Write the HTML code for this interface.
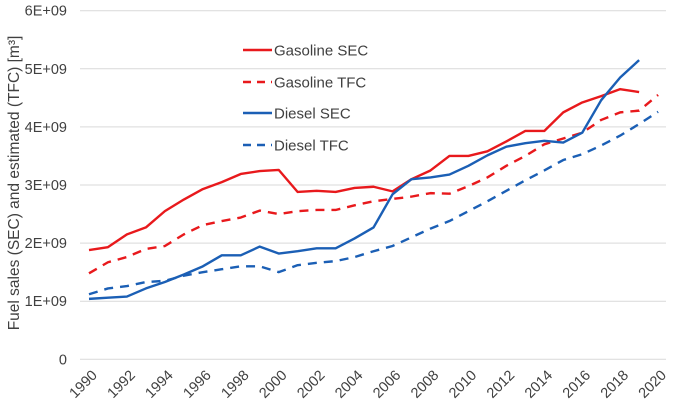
<!DOCTYPE html>
<html><head><meta charset="utf-8"><style>
body{margin:0;background:#fff;}
svg{display:block;font-family:"Liberation Sans",sans-serif;}
</style></head><body>
<svg id="c" width="673" height="406"></svg>
<script>
const years=[1990,1991,1992,1993,1994,1995,1996,1997,1998,1999,2000,2001,2002,2003,2004,2005,2006,2007,2008,2009,2010,2011,2012,2013,2014,2015,2016,2017,2018,2019,2020];
const gasolineSEC=[1.88,1.93,2.15,2.27,2.55,2.75,2.93,3.05,3.19,3.24,3.26,2.88,2.90,2.88,2.95,2.97,2.89,3.10,3.25,3.50,3.50,3.58,3.75,3.93,3.93,4.25,4.42,4.53,4.65,4.60];
const gasolineTFC=[1.48,1.67,1.76,1.90,1.95,2.15,2.31,2.38,2.44,2.56,2.50,2.55,2.57,2.57,2.65,2.72,2.76,2.80,2.86,2.85,2.98,3.13,3.33,3.50,3.70,3.80,3.90,4.12,4.25,4.28,4.55];
const dieselSEC=[1.04,1.06,1.08,1.22,1.33,1.46,1.60,1.79,1.79,1.94,1.82,1.86,1.91,1.91,2.08,2.27,2.84,3.10,3.13,3.18,3.33,3.51,3.66,3.72,3.76,3.73,3.90,4.46,4.85,5.15];
const dieselTFC=[1.12,1.22,1.26,1.33,1.35,1.44,1.50,1.55,1.60,1.60,1.50,1.62,1.66,1.69,1.76,1.86,1.95,2.10,2.25,2.38,2.55,2.72,2.90,3.08,3.25,3.43,3.53,3.68,3.85,4.05,4.26];
const yTicks=[0,1,2,3,4,5,6];
const yTickLabels=["0","1E+09","2E+09","3E+09","4E+09","5E+09","6E+09"];
const xTickLabels=[1990,1992,1994,1996,1998,2000,2002,2004,2006,2008,2010,2012,2014,2016,2018,2020];
const series=[
 {name:"Gasoline SEC",vals:gasolineSEC,color:"#e8191c",dash:""},
 {name:"Gasoline TFC",vals:gasolineTFC,color:"#e8191c",dash:"9,7"},
 {name:"Diesel SEC",vals:dieselSEC,color:"#1b5fb5",dash:""},
 {name:"Diesel TFC",vals:dieselTFC,color:"#1b5fb5",dash:"9,7"}
];
const svg=document.getElementById('c');
const NS="http://www.w3.org/2000/svg";
function X(yr){return 89+(yr-1990)*18.97;}
function Y(v){return 359.3-v*58.1;}
function mk(t,a){const e=document.createElementNS(NS,t);for(const k in a)e.setAttribute(k,a[k]);svg.appendChild(e);return e;}
yTicks.forEach((v,i)=>{
 const g=mk('line',{x1:80,x2:666,y1:Y(v),y2:Y(v),stroke:"#d9d9d9","stroke-width":1});
 
 
 const t=mk('text',{x:67,y:Y(v)+5,"text-anchor":"end","font-size":14.5,fill:"#404040"});
 t.textContent=yTickLabels[i];
 
 
});
xTickLabels.forEach(yr=>{
 const x=X(yr)+9,y=376;
 const t=mk('text',{x:x,y:y,"text-anchor":"end","font-size":14.5,fill:"#404040",transform:`rotate(-45 ${x} ${y})`});
 t.textContent=yr;
 
 
});
const yt=mk('text',{x:0,y:0,"text-anchor":"middle","font-size":15.5,fill:"#404040",transform:"translate(19 183) rotate(-90)"});
yt.textContent="Fuel sales (SEC) and estimated (TFC) [m³]";


series.forEach(s=>{
 const pts=s.vals.map((v,i)=>X(years[i])+","+Y(v)).join(" ");
 const p=mk('polyline',{points:pts,fill:"none",stroke:s.color,"stroke-width":2.4,"stroke-dasharray":s.dash,"stroke-linejoin":"round"});
 
 
});
const ly=[50,82,113,145];
series.forEach((s,i)=>{
 const l=mk('line',{x1:243,x2:272,y1:ly[i],y2:ly[i],stroke:s.color,"stroke-width":2.4,"stroke-dasharray":s.dash?"8,6":""});
 
 
 const t=mk('text',{x:274,y:ly[i]+5.5,"font-size":15,fill:"#404040"});
 t.textContent=s.name;
 
 
});
</script>
</body></html>
